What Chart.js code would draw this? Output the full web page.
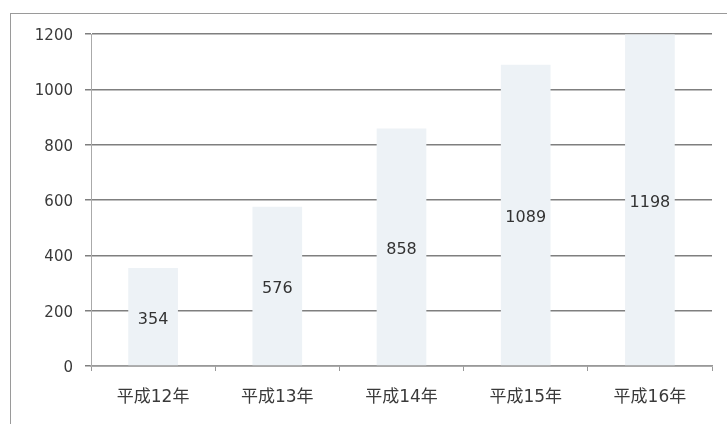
<!DOCTYPE html>
<html>
<head>
<meta charset="utf-8">
<script src="https://cdn.jsdelivr.net/npm/chart.js@4/dist/chart.umd.min.js"></script>
<style>
  html, body { margin: 0; padding: 0; background: #fff; }
  #wrap { position: relative; width: 727px; height: 424px; overflow: hidden; }
  #frame { position: absolute; left: 10px; top: 13px; width: 740px; height: 440px; border: 1.5px solid #9a9a9a; box-sizing: border-box; }
  canvas { position: absolute; left: 0; top: 0; }
</style>
</head>
<body>
<div id="wrap">
  <div id="frame"></div>
  <canvas id="chart" width="727" height="424"></canvas>
</div>
<script>
// 年度ごとの値
const categories = ['平成12年', '平成13年', '平成14年', '平成15年', '平成16年'];
const values = [354, 576, 858, 1089, 1198];
const yTicks = [0, 200, 400, 600, 800, 1000, 1200];

const font = "'DejaVu Sans', 'Noto Sans CJK JP', sans-serif";
const textColor = '#3a3a3a';

// draw each value in the middle of its bar
const centerLabels = {
    id: 'centerLabels',
    afterDatasetsDraw(chart) {
        const ctx = chart.ctx;
        const meta = chart.getDatasetMeta(0);
        ctx.save();
        ctx.font = '16px ' + font;
        ctx.fillStyle = '#333';
        ctx.textAlign = 'center';
        ctx.textBaseline = 'middle';
        meta.data.forEach((bar, i) => {
            const mid = (bar.y + bar.base) / 2 + 3;
            ctx.fillText(values[i], bar.x, mid);
        });
        ctx.restore();
    }
};

new Chart(document.getElementById('chart').getContext('2d'), {
    type: 'bar',
    data: {
        labels: categories,
        datasets: [{
            data: values,
            backgroundColor: '#edf2f6',
            borderWidth: 0,
            categoryPercentage: 0.8,
            barPercentage: 0.5
        }]
    },
    options: {
        responsive: false,
        animation: false,
        layout: { padding: { top: 34, right: 15, left: 0, bottom: 0 } },
        plugins: { legend: { display: false }, tooltip: { enabled: false } },
        scales: {
            x: {
                offset: true,
                grid: { display: true, drawOnChartArea: false, offset: true, tickLength: 5, color: '#999', lineWidth: 1 },
                border: { color: '#999', width: 1.5 },
                ticks: { color: textColor, font: { family: font, size: 17 }, padding: 16, maxRotation: 0 },
                afterFit(scale) { scale.height = 58; }
            },
            y: {
                min: 0,
                max: 1200,
                afterBuildTicks(scale) { scale.ticks = yTicks.map(v => ({ value: v })); },
                grid: { color: '#7f7f7f', lineWidth: 1.5, tickLength: 6 },
                border: { color: '#aaa', width: 1 },
                ticks: {
                    color: textColor,
                    font: { family: font, size: 15 },
                    padding: 12,
                    labelOffset: 2,
                    callback: v => String(v)
                },
                afterFit(scale) { scale.width = 91; }
            }
        }
    },
    plugins: [centerLabels]
});
</script>
</body>
</html>
